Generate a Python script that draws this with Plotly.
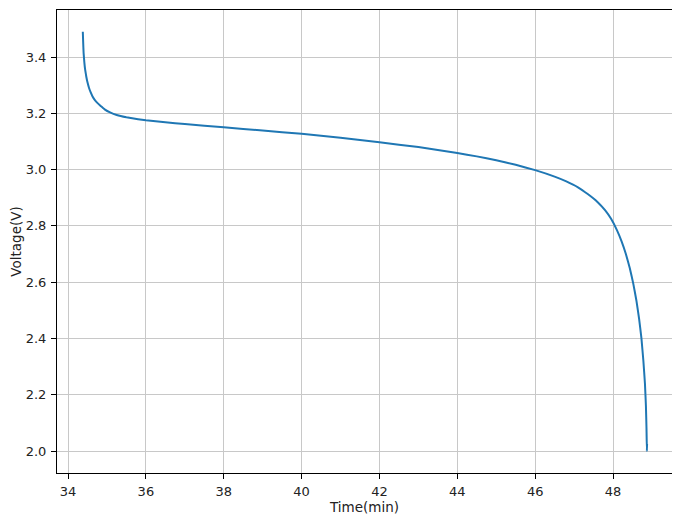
import plotly.graph_objects as go

time_min = [34.38, 34.39, 34.40, 34.42, 34.44, 34.47, 34.50, 34.54, 34.58, 34.63,
            34.69, 34.76, 34.85, 34.95, 35.08, 35.25, 35.5, 35.8, 36.0, 36.5,
            37.0, 38.0, 39.0, 40.0, 41.0, 42.0, 43.0, 44.0, 44.5, 45.0,
            45.5, 46.0, 46.5, 46.8, 47.1, 47.35, 47.6, 47.8, 47.95, 48.1,
            48.22, 48.33, 48.43, 48.52, 48.6, 48.67, 48.73, 48.78, 48.82, 48.845,
            48.86, 48.87, 48.875]
voltage = [3.49, 3.45, 3.415, 3.38, 3.355, 3.33, 3.31, 3.29, 3.275, 3.26,
           3.247, 3.236, 3.225, 3.213, 3.203, 3.194, 3.186, 3.179, 3.175, 3.168,
           3.162, 3.150, 3.139, 3.127, 3.113, 3.097, 3.080, 3.059, 3.047, 3.033,
           3.017, 2.998, 2.975, 2.958, 2.937, 2.913, 2.885, 2.855, 2.825, 2.785,
           2.745, 2.700, 2.650, 2.595, 2.535, 2.470, 2.400, 2.320, 2.240, 2.160,
           2.080, 2.0, 2.025]

x_ticks = [34, 36, 38, 40, 42, 44, 46, 48]
y_ticks = [2.0, 2.2, 2.4, 2.6, 2.8, 3.0, 3.2, 3.4]

fig = go.Figure()
fig.add_trace(go.Scatter(x=time_min, y=voltage, mode="lines",
                         line=dict(color="#1f77b4", width=2, shape="spline", smoothing=0.3),
                         showlegend=False))

axis_common = dict(showline=True, linecolor="black", linewidth=1, mirror=True,
                   ticks="outside", ticklen=5, tickcolor="black",
                   showgrid=True, gridcolor="#c8c8c8", gridwidth=1,
                   zeroline=False, tickfont=dict(size=13, color="#222"))

fig.update_layout(
    width=680, height=516,
    margin=dict(l=49, r=16, t=2, b=51),
    paper_bgcolor="white", plot_bgcolor="white",
    font=dict(family="DejaVu Sans", size=13, color="#222"),
    xaxis=dict(range=[33.717, 49.515], tickvals=x_ticks,
               ticktext=[str(v) for v in x_ticks], ticklabelstandoff=1,
               title=dict(text="Time(min)", standoff=3, font=dict(size=13.5)), **axis_common),
    yaxis=dict(range=[1.922, 3.567], tickvals=y_ticks,
               ticktext=[f"{v:.1f}" for v in y_ticks], ticklabelstandoff=2,
               title=dict(text="Voltage(V)", standoff=2, font=dict(size=13.5)), **axis_common),
)

fig.write_html("out.html")
